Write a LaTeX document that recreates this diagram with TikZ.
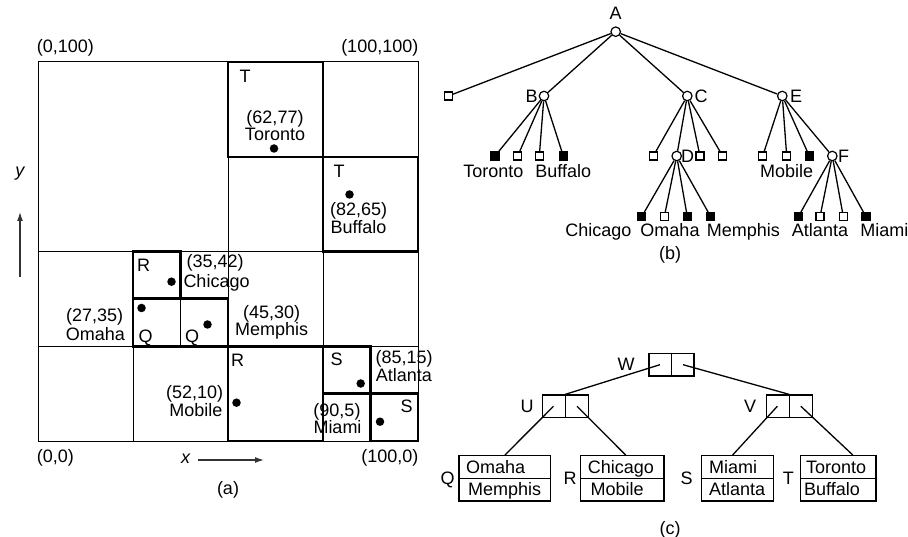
\documentclass[tikz,border=0pt]{standalone}
\usepackage{fontspec}
\setmainfont{Liberation Sans}
\usetikzlibrary{arrows.meta,calc}
\begin{document}
\begin{tikzpicture}[x=1pt,y=-1pt,
  txt/.style={inner sep=0pt, text height=12.9pt, text depth=0pt, font=\fontsize{18}{20}\selectfont},
  gridline/.style={line width=1pt},
  thickbox/.style={line width=2.7pt},
  dot/.style={circle, fill=black, inner sep=0pt, minimum size=8.5pt},
  inode/.style={circle, draw, fill=white, line width=1.2pt, inner sep=0pt, minimum size=9.5pt},
  eleaf/.style={rectangle, draw, fill=white, line width=1.2pt, inner sep=0pt, minimum size=8pt},
  fleaf/.style={rectangle, draw, fill=black, line width=1.2pt, inner sep=0pt, minimum size=8pt},
  tedge/.style={line width=1.3pt},
  ptr/.style={rectangle, draw, line width=1.2pt, inner sep=0pt, minimum width=46pt, minimum height=22.7pt},
  leafbox/.style={rectangle, draw, line width=1.2pt, inner sep=0pt, minimum height=45.3pt},
  axisarrow/.style={line width=1.3pt, draw=black!80, -{Latex[length=9pt,width=6pt]}}
]
\useasboundingbox (0,0) rectangle (908,537);

% ---------- (a) grid ----------
\draw[gridline] (38,62) rectangle (418,441);
\draw[gridline] (228,62) -- (228,441);
\draw[gridline] (323,62) -- (323,441);
\draw[gridline] (38,251.5) -- (418,251.5);
\draw[gridline] (38,346.5) -- (418,346.5);
\draw[gridline] (228,157) -- (418,157);
\draw[gridline] (133,251.5) -- (133,441);
\draw[gridline] (180.5,298.75) -- (180.5,346.5);

\draw[thickbox] (228,62) rectangle (323,157);
\draw[thickbox] (323,157) rectangle (418,251.5);
\draw[thickbox] (133,251.5) rectangle (180.5,298.75);
\draw[thickbox] (133,298.75) rectangle (228,346.5);
\draw[thickbox] (228,346.5) rectangle (323,441);
\draw[thickbox] (323,346.5) rectangle (370.5,393.75);
\draw[thickbox] (370.5,393.75) rectangle (418,441);

% points
\node[dot] (pTor) at (274,148.5) {};
\node[dot] (pBuf) at (349.5,194.5) {};
\node[dot] (pChi) at (171.5,281.7) {};
\node[dot] (pOma) at (141.5,308) {};
\node[dot] (pMem) at (207.5,324.5) {};
\node[dot] (pMob) at (236.5,402.7) {};
\node[dot] (pAtl) at (360.7,383.5) {};
\node[dot] (pMia) at (380,421.7) {};

% labels (a)
\node[txt, anchor=west] (c0100) at (36.7,46.5) {(0,100)};
\node[txt, anchor=east] (c100100) at (418.5,46.5) {(100,100)};
\node[txt] (lT1) at (245,76) {T};
\node[txt] (lTorC) at (275,116.7) {(62,77)};
\node[txt] (lTor) at (275,134) {Toronto};
\node[txt] (lT2) at (339,171) {T};
\node[txt, anchor=west] (lBufC) at (330,209) {(82,65)};
\node[txt, anchor=west] (lBuf) at (330.5,226.7) {Buffalo};
\node[txt] (lR1) at (143.5,265) {R};
\node[txt, anchor=west] (lChiC) at (186.5,260.7) {(35,42)};
\node[txt, anchor=west] (lChi) at (183.3,280.7) {Chicago};
\node[txt, anchor=east] (lOmaC) at (123.3,315) {(27,35)};
\node[txt, anchor=east] (lOma) at (125,334) {Omaha};
\node[txt] (lQ1) at (145.5,335.7) {Q};
\node[txt] (lQ2) at (192,335.7) {Q};
\node[txt] (lMemC) at (271.7,311.7) {(45,30)};
\node[txt] (lMem) at (271.7,329) {Memphis};
\node[txt] (lR2) at (237.5,360) {R};
\node[txt, anchor=east] (lMobC) at (223.3,391.7) {(52,10)};
\node[txt, anchor=east] (lMob) at (222.5,410) {Mobile};
\node[txt] (lS1) at (336.7,359.3) {S};
\node[txt, anchor=west] (lAtlC) at (375.5,357) {(85,15)};
\node[txt, anchor=west] (lAtl) at (375.7,375) {Atlanta};
\node[txt, anchor=east] (lMiaC) at (360.7,410) {(90,5)};
\node[txt, anchor=east] (lMia) at (361.7,426.7) {Miami};
\node[txt] (lS2) at (406.7,405.7) {S};
\node[txt, anchor=west] (c00) at (36.7,456) {(0,0)};
\node[txt, anchor=east] (c1000) at (418.5,456) {(100,0)};
\node[txt, font=\fontsize{18}{20}\selectfont\itshape, text height=9.5pt] (xlab) at (185.7,458.5) {x};
\coordinate (xa1) at (198,460);
\coordinate (xa2) at (264,460);
\draw[axisarrow] (xa1) -- (xa2);
\node[txt] (capa) at (228,488) {(a)};
\node[txt, font=\fontsize{18}{20}\selectfont\itshape, text height=9.5pt] (ylab) at (20,172) {y};
\coordinate (ya1) at (20,277);
\coordinate (ya2) at (20,212);
\draw[axisarrow] (ya1) -- (ya2);

% ---------- (b) tree ----------
\node[inode] (A) at (615.7,31.7) {};
\node[eleaf] (L0) at (448.3,96) {};
\node[inode] (B) at (544,96) {};
\node[inode] (C) at (687.3,96) {};
\node[inode] (E) at (782.3,96) {};
\node[fleaf] (B1) at (495,156) {};
\node[eleaf] (B2) at (517.7,156) {};
\node[eleaf] (B3) at (539.3,156) {};
\node[fleaf] (B4) at (563.3,156) {};
\node[eleaf] (C1) at (653.3,156) {};
\node[inode] (D) at (676.7,156) {};
\node[eleaf] (C3) at (700,156) {};
\node[eleaf] (C4) at (722.7,156) {};
\node[eleaf] (E1) at (762.7,156) {};
\node[eleaf] (E2) at (786.7,156) {};
\node[fleaf] (E3) at (809.3,156) {};
\node[inode] (F) at (832.3,156) {};
\node[fleaf] (D1) at (641.7,216.7) {};
\node[eleaf] (D2) at (664.3,216.7) {};
\node[fleaf] (D3) at (687.3,216.7) {};
\node[fleaf] (D4) at (710.7,216.7) {};
\node[fleaf] (F1) at (798.3,216.7) {};
\node[eleaf] (F2) at (820,216.7) {};
\node[eleaf] (F3) at (843.3,216.7) {};
\node[fleaf] (F4) at (866,216.7) {};

\foreach \c in {L0,B,C,E} \draw[tedge] (A) -- (\c);
\foreach \c in {B1,B2,B3,B4} \draw[tedge] (B) -- (\c);
\foreach \c in {C1,D,C3,C4} \draw[tedge] (C) -- (\c);
\foreach \c in {E1,E2,E3,F} \draw[tedge] (E) -- (\c);
\foreach \c in {D1,D2,D3,D4} \draw[tedge] (D) -- (\c);
\foreach \c in {F1,F2,F3,F4} \draw[tedge] (F) -- (\c);

\node[txt] (lA) at (615.7,13) {A};
\node[txt] (lB) at (531.5,96) {B};
\node[txt] (lC) at (701,96) {C};
\node[txt] (lE) at (796,96) {E};
\node[txt] (lD) at (687.5,156) {D};
\node[txt] (lF) at (843.5,156) {F};
\node[txt] (tTor) at (493.3,170.7) {Toronto};
\node[txt] (tBuf) at (563.3,170.7) {Buffalo};
\node[txt] (tMob) at (786.7,170.7) {Mobile};
\node[txt] (tChi) at (598.3,230) {Chicago};
\node[txt] (tOma) at (670,230) {Omaha};
\node[txt] (tMem) at (743.3,230) {Memphis};
\node[txt] (tAtl) at (820,230) {Atlanta};
\node[txt, anchor=east] (tMia) at (908.5,230) {Miami};
\node[txt] (capb) at (670,253.3) {(b)};

% ---------- (c) tree ----------
\node[ptr, minimum width=45pt] (W) at (671.5,364.7) {};
\draw[line width=1.2pt] (W.north) -- (W.south);
\node[ptr] (U) at (565.3,406.3) {};
\draw[line width=1.2pt] (U.north) -- (U.south);
\node[ptr] (V) at (789.1,406.3) {};
\draw[line width=1.2pt] (V.north) -- (V.south);

\node[leafbox, minimum width=91.7pt] (Qb) at (504.85,478.35) {};
\node[leafbox, minimum width=83.3pt] (Rb) at (622.35,478.35) {};
\node[leafbox, minimum width=72pt] (Sb) at (737.7,478.35) {};
\node[leafbox, minimum width=75.3pt] (Tb) at (838.35,478.35) {};
\foreach \b in {Qb,Rb,Sb,Tb} \draw[line width=1.2pt] (\b.west) -- (\b.east);

\coordinate (Wl) at ($(W.west)!0.25!(W.east)$);
\coordinate (Wr) at ($(W.west)!0.75!(W.east)$);
\coordinate (Ul) at ($(U.west)!0.25!(U.east)$);
\coordinate (Ur) at ($(U.west)!0.75!(U.east)$);
\coordinate (Vl) at ($(V.west)!0.25!(V.east)$);
\coordinate (Vr) at ($(V.west)!0.75!(V.east)$);
\coordinate (Qt) at ($(Qb.north west)!0.5!(Qb.north east)$);
\coordinate (Rt) at ($(Rb.north west)!0.54!(Rb.north east)$);
\coordinate (St) at ($(Sb.north west)!0.43!(Sb.north east)$);
\coordinate (Tt) at ($(Tb.north west)!0.69!(Tb.north east)$);
\draw[tedge] (Wl) -- (U.north);
\draw[tedge] (Wr) -- (V.north);
\draw[tedge] (Ul) -- (Qt);
\draw[tedge] (Ur) -- (Rt);
\draw[tedge] (Vl) -- (St);
\draw[tedge] (Vr) -- (Tt);

\node[txt] (lW) at (626,364.3) {W};
\node[txt] (lU) at (527,406) {U};
\node[txt] (lV) at (750,406) {V};
\node[txt] (lQ) at (447.5,478.3) {Q};
\node[txt] (lR) at (570,478.3) {R};
\node[txt] (lS) at (686.7,478.3) {S};
\node[txt] (lT) at (788.3,478.3) {T};

\node[txt, anchor=west] (q1) at (466,466.7) {Omaha};
\node[txt, anchor=west] (q2) at (468,489.5) {Memphis};
\node[txt, anchor=west] (r1) at (587.7,466.7) {Chicago};
\node[txt, anchor=west] (r2) at (590.5,489.5) {Mobile};
\node[txt, anchor=west] (s1) at (709,466.7) {Miami};
\node[txt, anchor=west] (s2) at (709,489.5) {Atlanta};
\node[txt, anchor=west] (t1) at (806,466.7) {Toronto};
\node[txt, anchor=west] (t2) at (804,489.5) {Buffalo};
\node[txt] (capc) at (670,528.3) {(c)};
\end{tikzpicture}
\end{document}
